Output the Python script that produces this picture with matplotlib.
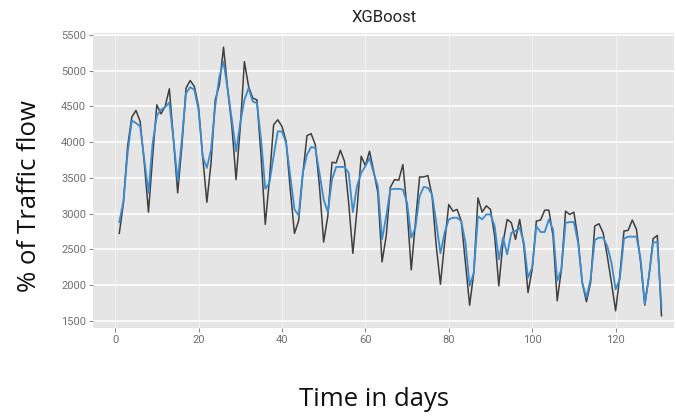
import matplotlib
matplotlib.use('Agg')
import matplotlib.pyplot as plt
import numpy as np

# daily traffic flow (days 1..131)
actual = [2724, 3152, 3942, 4351, 4444, 4291, 3710, 3021, 3800, 4523,
          4397, 4500, 4747, 4035, 3291, 3942, 4756, 4863, 4779, 4500,
          3800, 3160, 3710, 4593, 4800, 5330, 4733, 4221, 3477, 4200,
          5128, 4779, 4617, 4593, 3803, 2850, 3477, 4244, 4314, 4221,
          4012, 3338, 2724, 2900, 3550, 4091, 4119, 3965, 3384, 2603,
          2966, 3719, 3710, 3887, 3733, 3152, 2445, 3059, 3803, 3673,
          3873, 3594, 3291, 2324, 2687, 3370, 3477, 3468, 3687, 3059,
          2213, 2873, 3514, 3514, 3533, 3245, 2547, 2012, 2594, 3128,
          3035, 3059, 2896, 2315, 1719, 2175, 3221, 3021, 3110, 3059,
          2687, 1989, 2594, 2919, 2873, 2640, 2919, 2547, 1896, 2222,
          2896, 2910, 3049, 3049, 2687, 1780, 2222, 3035, 2989, 3021,
          2640, 2035, 1766, 2035, 2826, 2859, 2733, 2408, 2035, 1640,
          2128, 2757, 2766, 2910, 2780, 2315, 1719, 2128, 2650, 2696,
          1571]

predicted = [2882, 3175, 3849, 4305, 4268, 4221, 3756, 3291, 3989, 4370,
             4454, 4491, 4556, 4035, 3454, 4035, 4686, 4770, 4733, 4454,
             3800, 3640, 3896, 4500, 4919, 5128, 4733, 4314, 3870, 4268,
             4593, 4756, 4570, 4547, 4035, 3347, 3430, 3803, 4151, 4151,
             3989, 3524, 3059, 2975, 3570, 3826, 3933, 3919, 3570, 3198,
             3021, 3477, 3654, 3654, 3654, 3570, 3021, 3384, 3570, 3664,
             3780, 3570, 3384, 2640, 2966, 3338, 3347, 3347, 3338, 3152,
             2664, 2803, 3245, 3375, 3361, 3268, 2873, 2445, 2733, 2919,
             2943, 2943, 2896, 2594, 1989, 2175, 2966, 2919, 2989, 2989,
             2826, 2361, 2664, 2431, 2733, 2757, 2803, 2594, 2105, 2245,
             2826, 2743, 2743, 2919, 2780, 2059, 2222, 2873, 2882, 2882,
             2594, 2035, 1826, 2082, 2631, 2664, 2664, 2547, 2315, 1942,
             2082, 2650, 2678, 2678, 2678, 2361, 1733, 2128, 2594, 2603,
             1687]

days = np.arange(1, len(actual) + 1)

x_ticks = [0, 20, 40, 60, 80, 100, 120]
y_ticks = [1500, 2000, 2500, 3000, 3500, 4000, 4500, 5000, 5500]

narrow = ['Roboto', 'DejaVu Sans']
big = ['Open Sans', 'DejaVu Sans']

fig = plt.figure(figsize=(6.76, 4.16), dpi=100)
ax = fig.add_axes([93 / 676, 1 - 328 / 416, (674 - 93) / 676, (328 - 33) / 416])

ax.set_facecolor('#e5e5e5')
for s in ax.spines.values():
    s.set_visible(False)

ax.plot(days, actual, color='#222222', linewidth=1.1, alpha=0.85, zorder=3)
ax.plot(days, predicted, color='#3a8bd0', linewidth=1.3, zorder=4)

ax.set_xlim(-5.3, 134)
ax.set_ylim(1400, 5528)
ax.set_xticks(x_ticks)
ax.set_yticks(y_ticks)
ax.grid(True, axis='y', color='white', linewidth=1.2, zorder=0)
ax.grid(True, axis='x', color='#f2f2f2', linewidth=0.8, zorder=0)
ax.set_axisbelow(True)

ax.tick_params(axis='both', colors='#8a8a8a', length=3, width=0.8, labelsize=8, pad=2)
for lab in ax.get_xticklabels() + ax.get_yticklabels():
    lab.set_family(narrow)
    lab.set_color('#707070')

fig.text(384 / 676, 1 - 18 / 416, 'XGBoost', ha='center', va='center',
         fontsize=12, family=narrow, color='#222222')
fig.text(30 / 676, 1 - 196 / 416, '% of Traffic flow', ha='center', va='center',
         rotation=90, fontsize=18.5, family=big, color='#111111')
fig.text(374 / 676, 1 - 400 / 416, 'Time in days', ha='center', va='center',
         fontsize=18.5, family=big, color='#111111')

fig.savefig('out.png', dpi=100)
